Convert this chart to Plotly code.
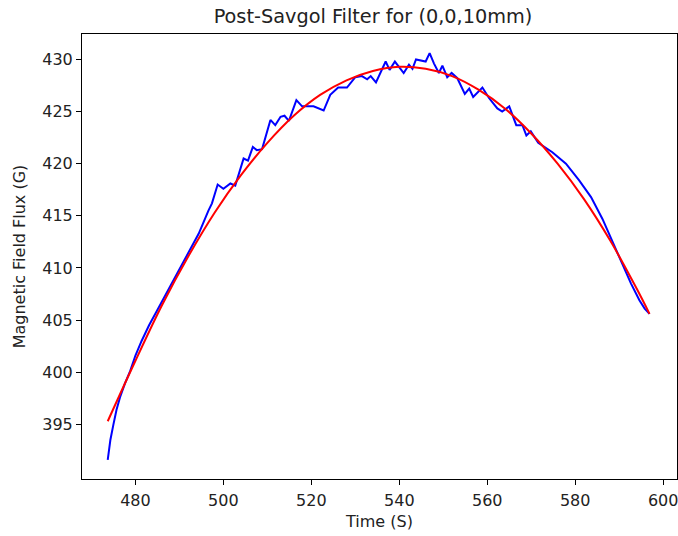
import plotly.graph_objects as go

# Blue: post-Savgol filtered signal
time_raw = [473.7, 474.3, 475.0, 475.7, 476.5, 477.6, 478.8, 480.0, 481.4, 483.1,
            484.9, 486.6, 488.3, 490.0, 491.7, 494.4, 496.6,
            497.4, 498.7, 500.0, 501.6, 502.7, 504.6, 505.6, 506.7, 507.6, 508.8,
            510.7, 511.8, 513.0, 513.9, 514.9, 516.6, 517.9, 520.5, 522.8, 524.3,
            526.1, 528.1, 530.0, 531.5, 532.7, 533.5, 534.7, 536.9, 537.8, 539.0,
            541.0, 542.2, 543.0, 543.8, 545.2, 546.0, 546.9, 547.9, 549.0, 549.8,
            550.9, 551.9, 553.2, 554.9, 555.9, 556.8, 558.9, 560.4, 562.3, 563.4,
            565.0, 566.6, 568.0, 568.9, 569.9, 571.6, 574.8, 577.9, 580.9, 583.6,
            586.2, 588.5, 590.4, 592.7, 594.6, 595.8, 596.9]
flux_raw = [391.6, 393.5, 395.0, 396.4, 397.6, 398.9, 400.1, 401.6, 403.0, 404.5,
            405.9, 407.2, 408.5, 409.9, 411.2, 413.3, 415.5,
            416.2, 418.0, 417.6, 418.1, 417.9, 420.5, 420.3, 421.6, 421.3, 421.4,
            424.2, 423.7, 424.5, 424.6, 424.1, 426.1, 425.5, 425.5, 425.1, 426.6,
            427.3, 427.3, 428.3, 428.4, 428.1, 428.4, 427.8, 429.8, 429.0, 429.8,
            428.7, 429.5, 429.1, 430.0, 429.9, 429.8, 430.6, 429.6, 428.7, 429.4,
            428.3, 428.7, 428.2, 426.7, 427.2, 426.4, 427.3, 426.3, 425.3, 425.0,
            425.5, 423.7, 423.7, 422.7, 423.1, 422.0, 421.1, 420.0, 418.4, 416.8,
            414.7, 412.5, 410.7, 408.5, 406.9, 406.1, 405.6]

# Red: fitted curve
time_fit = [473.7, 480, 486, 492, 498, 504, 510, 516, 522, 528, 534, 540,
            546, 552, 558, 564, 570, 576, 582, 588, 594, 596.9]
flux_fit = [395.3, 401.1, 406.4, 411.1, 415.3, 418.9, 422.0, 424.6, 426.6, 428.0,
            428.9, 429.3, 429.1, 428.4, 427.1, 425.3, 422.9, 420.0, 416.6, 412.6,
            408.0, 405.6]

x_ticks = [480, 500, 520, 540, 560, 580, 600]
y_ticks = [395, 400, 405, 410, 415, 420, 425, 430]

FONT = "DejaVu Sans"
TICK_SIZE = 16
LABEL_SIZE = 16
TITLE_SIZE = 19.3

fig = go.Figure()
fig.add_trace(go.Scatter(x=time_raw, y=flux_raw, mode="lines",
                         line=dict(color="#0000ff", width=2), showlegend=False))
fig.add_trace(go.Scatter(x=time_fit, y=flux_fit, mode="lines",
                         line=dict(color="#ff0000", width=2, shape="spline"),
                         showlegend=False))

axis_common = dict(showgrid=False, zeroline=False, showline=True, linecolor="black",
                   linewidth=1, mirror=True, ticks="outside", ticklen=5,
                   tickcolor="black", tickwidth=1, ticklabeloverflow="allow",
                   tickfont=dict(family=FONT, size=TICK_SIZE, color="#222222"))

fig.update_layout(
    width=678, height=536,
    margin=dict(l=82, r=1, t=34, b=57),
    plot_bgcolor="white", paper_bgcolor="white",
    font=dict(family=FONT, color="#222222"),
    title=dict(text="Post-Savgol Filter for (0,0,10mm)", x=373 / 678, xref="container",
               xanchor="center", y=1 - 16 / 536, yref="container", yanchor="middle",
               font=dict(family=FONT, size=TITLE_SIZE, color="#222222")),
    xaxis=dict(range=[467.85, 603.15], tickvals=x_ticks, ticklabelstandoff=2,
               title=dict(text="Time (S)", standoff=6,
                          font=dict(family=FONT, size=LABEL_SIZE, color="#222222")),
               **axis_common),
    yaxis=dict(range=[389.76, 432.44], tickvals=y_ticks,
               title=dict(text="Magnetic Field Flux (G)", standoff=12,
                          font=dict(family=FONT, size=LABEL_SIZE, color="#222222")),
               **axis_common),
)

fig.write_html("out.html")
